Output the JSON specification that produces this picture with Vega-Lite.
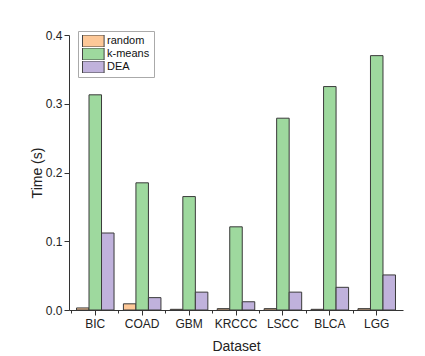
{
  "$schema": "https://vega.github.io/schema/vega-lite/v6.json",
  "width": 334,
  "height": 275,
  "autosize": {"type": "none"},
  "padding": {"left": 69, "top": 35, "right": 22, "bottom": 46},
  "background": "white",
  "config": {
    "font": "Liberation Sans",
    "view": {"stroke": null},
    "axis": {"domainColor": "#333", "tickColor": "#333", "labelColor": "#222", "titleColor": "#222", "grid": false, "labelFont": "Liberation Sans", "titleFont": "Liberation Sans", "titleFontWeight": "normal"}
  },
  "data": {
    "values": [
      {"dataset": "BIC", "method": "random", "time": 0.003},
      {"dataset": "BIC", "method": "k-means", "time": 0.313},
      {"dataset": "BIC", "method": "DEA", "time": 0.112},
      {"dataset": "COAD", "method": "random", "time": 0.009},
      {"dataset": "COAD", "method": "k-means", "time": 0.185},
      {"dataset": "COAD", "method": "DEA", "time": 0.018},
      {"dataset": "GBM", "method": "random", "time": 0.001},
      {"dataset": "GBM", "method": "k-means", "time": 0.165},
      {"dataset": "GBM", "method": "DEA", "time": 0.026},
      {"dataset": "KRCCC", "method": "random", "time": 0.002},
      {"dataset": "KRCCC", "method": "k-means", "time": 0.121},
      {"dataset": "KRCCC", "method": "DEA", "time": 0.012},
      {"dataset": "LSCC", "method": "random", "time": 0.002},
      {"dataset": "LSCC", "method": "k-means", "time": 0.279},
      {"dataset": "LSCC", "method": "DEA", "time": 0.026},
      {"dataset": "BLCA", "method": "random", "time": 0.001},
      {"dataset": "BLCA", "method": "k-means", "time": 0.325},
      {"dataset": "BLCA", "method": "DEA", "time": 0.033},
      {"dataset": "LGG", "method": "random", "time": 0.002},
      {"dataset": "LGG", "method": "k-means", "time": 0.37},
      {"dataset": "LGG", "method": "DEA", "time": 0.051}
    ]
  },
  "resolve": {"axis": {"x": "independent"}},
  "layer": [
    {
      "mark": {"type": "bar", "stroke": "#3a3a3a", "strokeWidth": 1},
      "encoding": {
        "x": {
          "field": "dataset", "type": "nominal", "sort": null,
          "scale": {"paddingInner": 0.2, "paddingOuter": 0.16},
          "axis": {"orient": "bottom", "title": "Dataset", "labelAngle": 0, "labelFontSize": 12, "titleFontSize": 14, "tickSize": 5, "labelPadding": 3, "titlePadding": 10}
        },
        "xOffset": {"field": "method", "type": "nominal", "sort": ["random", "k-means", "DEA"], "scale": {"paddingInner": 0, "paddingOuter": 0}},
        "y": {
          "field": "time", "type": "quantitative",
          "scale": {"domain": [0, 0.4], "nice": false},
          "axis": {
            "title": "Time (s)", "titleFontSize": 14, "labelFontSize": 12, "titlePadding": 1,
            "values": [0, 0.05, 0.1, 0.15, 0.2, 0.25, 0.3, 0.35, 0.4],
            "labelExpr": "round(datum.value*20) % 2 == 0 ? format(datum.value, '.1f') : ''",
            "tickSize": {"condition": {"test": "round(datum.value*20) % 2 == 1", "value": 3}, "value": 5}
          }
        },
        "color": {
          "field": "method", "type": "nominal", "sort": ["random", "k-means", "DEA"],
          "scale": {"domain": ["random", "k-means", "DEA"], "range": ["#FDC898", "#9ED99E", "#C0B2DC"]},
          "legend": {
            "title": null, "orient": "none", "legendX": 9, "legendY": -4,
            "symbolType": "M-1,-1H2.6V1H-1Z", "symbolSize": 144,
            "symbolStrokeColor": "#444", "symbolStrokeWidth": 1, "symbolOpacity": 1,
            "labelFontSize": 11, "labelColor": "#111", "labelOffset": 12,
            "clipHeight": 12,
            "strokeColor": "#aaa", "fillColor": "white", "padding": 4, "rowPadding": 1
          }
        }
      }
    },
    {
      "mark": {"type": "bar", "opacity": 0},
      "encoding": {
        "x": {
          "field": "dataset", "type": "nominal", "sort": null,
          "axis": {"orient": "bottom", "bandPosition": -0.125, "labels": false, "domain": false, "title": null, "tickSize": 3}
        },
        "y": {"field": "time", "type": "quantitative"}
      }
    }
  ]
}
